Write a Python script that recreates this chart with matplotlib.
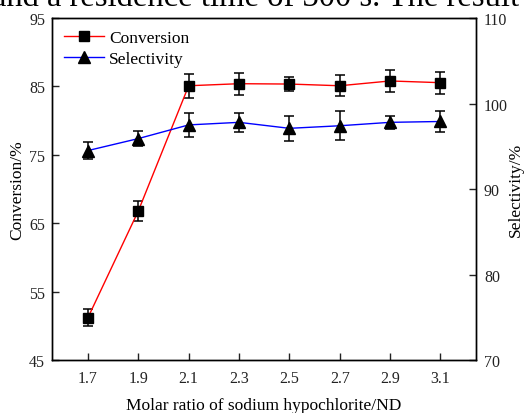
import matplotlib
matplotlib.use("Agg")
import matplotlib.pyplot as plt

plt.rcParams['font.family'] = ['Liberation Serif', 'DejaVu Serif']

# data
ratio = [1.7, 1.9, 2.1, 2.3, 2.5, 2.7, 2.9, 3.1]
conversion = [51.2, 66.8, 85.1, 85.4, 85.35, 85.1, 85.8, 85.55]
conv_err = [1.2, 1.5, 1.75, 1.6, 1.0, 1.5, 1.6, 1.6]
selectivity = [94.5, 95.9, 97.5, 97.8, 97.1, 97.4, 97.8, 97.9]
sel_err = [0.95, 0.85, 1.45, 1.15, 1.5, 1.7, 0.8, 1.2]

xticks = [1.7, 1.9, 2.1, 2.3, 2.5, 2.7, 2.9, 3.1]
left_ticks = [45, 55, 65, 75, 85, 95]
right_ticks = [70, 80, 90, 100, 110]

fig = plt.figure(figsize=(5.25, 4.14), dpi=100)
ax = fig.add_axes([0.099, 0.128, 0.807, 0.826])
ax2 = ax.twinx()

# cropped caption line of the source page
fig.text(0.487, 0.986, "and a residence time of 300 s. The result",
         ha='center', va='baseline', fontsize=23.5)

# conversion on left axis
ax.errorbar(ratio, conversion, yerr=conv_err, fmt='none', ecolor='black',
            elinewidth=1.1, capsize=3.5, capthick=1.1, zorder=3)
l1, = ax.plot(ratio, conversion, color='red', lw=1.0, marker='s', ms=7,
              mfc='black', mec='black', zorder=4, label='Conversion')

# selectivity on right axis
ax2.errorbar(ratio, selectivity, yerr=sel_err, fmt='none', ecolor='black',
             elinewidth=1.1, capsize=3.5, capthick=1.1, zorder=3)
l2, = ax2.plot(ratio, selectivity, color='blue', lw=1.0, marker='^', ms=8,
               mfc='black', mec='black', zorder=4, label='Selectivity')

ax.set_xlim(1.557, 3.24)
ax.set_ylim(45, 95)
ax2.set_ylim(70, 110)
ax.set_xticks(xticks)
ax.set_xticklabels([f"{v:.1f}" for v in xticks])
ax.set_yticks(left_ticks)
ax2.set_yticks(right_ticks)

for a in (ax, ax2):
    a.tick_params(direction='in', length=5, width=1, labelsize=11.5,
                  colors='#222222', labelcolor='#222222')
    for s in a.spines.values():
        s.set_linewidth(1.0)
ax.tick_params(axis='x', pad=7)
ax.tick_params(axis='y', pad=5)
ax2.tick_params(axis='y', pad=6)

ax.set_xlabel("Molar ratio of sodium hypochlorite/ND", fontsize=12.5, labelpad=8)
ax.set_ylabel("Conversion/%", fontsize=12.5, labelpad=3)
ax2.set_ylabel("Selectivity/%", fontsize=12.5, labelpad=0)

ax.legend([l1, l2], ['Conversion', 'Selectivity'], loc='upper left',
          frameon=False, fontsize=12.5, handlelength=2.3, handletextpad=0.3,
          labelspacing=0.25, borderaxespad=0.3, bbox_to_anchor=(0.0, 1.0))

fig.savefig("out.png", dpi=100)
